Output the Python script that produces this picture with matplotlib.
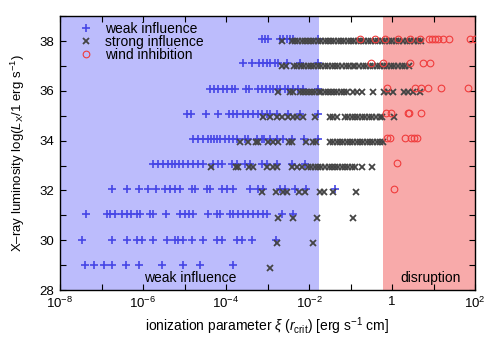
import numpy as np
import matplotlib
matplotlib.use("Agg")
import matplotlib.pyplot as plt
from matplotlib.lines import Line2D

plt.rcParams['font.family'] = ['Liberation Sans', 'DejaVu Sans']
plt.rcParams['mathtext.fontset'] = 'custom'
plt.rcParams['mathtext.rm'] = 'Liberation Sans'
plt.rcParams['mathtext.it'] = 'Liberation Sans:italic'
plt.rcParams['mathtext.sf'] = 'Liberation Sans'

# ---- data: log10(xi) values per luminosity row ----
# weak influence (+)
weak_rows = {
    38.1: [-3.13, -3.06, -2.99, -2.70, -2.63, -2.53, -2.46, -2.39, -1.78],
    37.1: [-3.59, -3.37, -3.20, -3.11, -3.01, -2.94, -2.82, -2.75, -2.53, -2.22, -1.78],
    36.08: [-4.39, -4.29, -4.19, -4.07, -3.98, -3.86, -3.78, -3.52, -3.45, -3.23, -3.13,
            -3.04, -2.94, -2.87, -2.77, -2.70, -2.58, -2.51, -2.39, -2.27, -2.14, -1.78],
    35.08: [-4.94, -4.84, -4.48, -4.19, -3.93, -3.83, -3.73, -3.59, -3.47, -3.35, -3.23,
            -3.13, -3.01, -2.94, -2.77, -2.51, -2.22, -1.78],
    34.08: [-4.80, -4.67, -4.55, -4.43, -4.36, -4.29, -4.22, -4.14, -4.02, -3.93, -3.83,
            -3.73, -3.54, -3.47, -3.25, -3.13, -3.08, -2.94, -2.77, -2.63, -2.41, -2.12, -1.78],
    33.07: [-5.76, -5.64, -5.52, -5.40, -5.30, -5.23, -5.13, -5.04, -4.92, -4.80, -4.67,
            -4.55, -4.31, -4.19, -4.10, -3.86, -3.73, -3.54, -3.42, -3.13, -3.01, -2.77,
            -2.41, -2.10],
    32.05: [-6.75, -6.39, -6.10, -5.88, -5.69, -5.47, -5.35, -5.23, -5.11, -4.82, -4.75,
            -4.46, -4.39, -4.10, -3.98, -3.83, -3.42, -3.23, -3.11, -2.70, -2.58, -2.34,
            -2.07, -1.37],
    31.04: [-7.37, -6.87, -6.80, -6.67, -6.51, -6.39, -6.29, -6.14, -6.07, -5.83, -5.76,
            -5.45, -5.11, -4.99, -4.89, -4.80, -4.43, -4.22, -4.14, -3.90, -3.83, -3.71,
            -3.59, -3.47, -3.35, -3.23, -3.11, -3.01, -2.65, -2.39],
    30.03: [-7.47, -6.75, -6.39, -6.14, -6.02, -5.76, -5.42, -5.23, -5.16, -5.04, -4.82,
            -4.55, -4.22, -4.10, -3.73, -3.61, -3.37, -2.80],
    29.02: [-7.40, -7.18, -6.95, -6.75, -6.42, -6.09, -5.54, -5.04, -4.63, -3.83],
}

# strong influence (x)
strong_rows = {
    38.0: [-2.65, -2.41, -2.33, -2.26, -2.17, -2.10, -2.02, -1.94, -1.87, -1.79, -1.70,
           -1.62, -1.55, -1.46, -1.39, -1.31, -1.23, -1.15, -1.06, -0.99, -0.91, -0.83,
           -0.74, -0.67, -0.58, -0.50, -0.42, -0.33, -0.25, -0.17, -0.08, 0.01, 0.09,
           0.18, 0.27, 0.35, 0.44, 0.53, 0.62, 0.70],
    36.98: [-2.65, -2.55, -2.36, -2.28, -2.19, -2.12, -2.03, -1.95, -1.88, -1.79, -1.70,
            -1.62, -1.55, -1.45, -1.37, -1.29, -1.21, -1.12, -1.04, -0.95, -0.88, -0.79,
            -0.70, -0.62, -0.54, -0.45, -0.37, -0.29, -0.20, -0.11, -0.03, 0.06, 0.14,
            0.23, 0.32, 0.41],
    35.96: [-2.75, -2.46, -2.39, -2.22, -2.15, -2.07, -2.00, -1.92, -1.85, -1.77, -1.70,
            -1.62, -1.55, -1.47, -1.40, -1.32, -1.24, -1.16, -1.08, -0.94, -0.84, -0.72,
            -0.46, -0.19, -0.10, 0.02, 0.29, 0.39, 0.51, 0.67],
    34.95: [-3.11, -2.94, -2.77, -2.65, -2.51, -2.39, -2.29, -2.14, -1.86, -1.49, -1.42,
            -1.33, -1.13, -1.05, -0.97, -0.89, -0.81, -0.72, -0.64, -0.56, -0.47, -0.38,
            -0.30, -0.24, 0.05],
    33.94: [-3.66, -3.47, -3.28, -3.23, -2.99, -2.87, -2.75, -2.48, -2.41, -2.07, -1.90,
            -1.83, -1.49, -1.41, -1.33, -1.25, -1.17, -1.09, -1.01, -0.93, -0.85, -0.77,
            -0.69, -0.61, -0.53, -0.45, -0.37, -0.29, -0.21],
    32.93: [-4.36, -3.76, -3.71, -3.45, -3.35, -3.01, -2.87, -2.77, -2.41, -2.29, -2.17,
            -2.02, -1.94, -1.86, -1.78, -1.70, -1.62, -1.53, -1.45, -1.37, -1.29, -1.21,
            -1.13, -1.05, -0.97, -0.89, -0.72, -0.48],
    31.92: [-3.13, -2.80, -2.63, -2.53, -2.24, -2.10, -1.73, -1.64, -1.42, -0.87],
    30.91: [-2.75, -2.39, -1.81, -0.94],
    29.9: [-2.77, -1.90],
    28.89: [-2.94],
}

# wind inhibition (o)
inhib_rows = {
    38.1: [-0.77, -0.41, -0.17, 0.14, 0.43, 0.67, 0.89, 0.96, 1.04, 1.11, 1.23, 1.37, 1.88, 2.00],
    37.1: [-0.51, -0.22, 0.43, 0.75, 0.92],
    36.1: [-0.12, 0.55, 0.70, 0.87, 1.18, 1.83],
    35.1: [-0.14, -0.03, 0.39, 0.41, 0.70],
    34.1: [-0.12, -0.05, 0.31, 0.46, 0.53, 0.60],
    33.09: [0.12],
    32.08: [0.05],
}

weak_edge = 0.0174   # upper xi of weak-influence zone
disrupt_edge = 0.6   # lower xi of disruption zone


def flatten(rows):
    xs, ys = [], []
    for y, lx in rows.items():
        xs.extend(10.0 ** np.array(lx))
        ys.extend([y] * len(lx))
    return np.array(xs), np.array(ys)


fig = plt.figure(figsize=(5, 3.5), dpi=100)
ax = fig.add_axes([0.12, 0.171, 0.83, 0.783])

ax.axvspan(1e-8, weak_edge, color='#bcbcfc', lw=0, zorder=0)
ax.axvspan(disrupt_edge, 1e2, color='#f8aaaa', lw=0, zorder=0)

xw, yw = flatten(weak_rows)
xs, ys = flatten(strong_rows)
xi, yi = flatten(inhib_rows)

PLUS = dict(ls='none', marker='+', ms=5.5, mew=1.2, color='#4646e6')
CROSS = dict(ls='none', marker='x', ms=4.4, mew=1.3, color='#444444')
CIRC = dict(ls='none', marker='o', ms=4.8, mew=0.8, mfc='none', mec='#f03c3c')

ax.plot(xw, yw, zorder=3, **PLUS)
ax.plot(xs, ys, zorder=4, **CROSS)
ax.plot(xi, yi, zorder=5, **CIRC)

ax.set_xscale('log')
ax.set_xlim(1e-8, 1e2)
ax.set_ylim(28, 39)

ax.set_xticks([10.0 ** k for k in range(-8, 3)])
ax.set_xticklabels(['$10^{-8}$', '', '$10^{-6}$', '', '$10^{-4}$', '', '$10^{-2}$', '',
                    '1', '', '$10^{2}$'])
ax.xaxis.set_minor_locator(matplotlib.ticker.NullLocator())
ax.set_yticks(range(28, 40))
ax.set_yticklabels([str(v) if v % 2 == 0 else '' for v in range(28, 40)])

ax.tick_params(direction='in', top=True, right=True, length=4, width=0.8,
               labelsize=9.5, pad=4)
for s in ax.spines.values():
    s.set_linewidth(1.0)

ax.set_xlabel(r'ionization parameter $\xi$ ($r_{\rm crit}$) [erg s$^{-1}$ cm]', fontsize=10, labelpad=3)
ax.set_ylabel(r'X–ray luminosity log($L_{\rm X}$/1 erg s$^{-1}$)', fontsize=9.5, labelpad=9)

ax.text(10 ** -4.87, 28.5, 'weak influence', ha='center', va='center', fontsize=10)
ax.text(10 ** 0.94, 28.5, 'disruption', ha='center', va='center', fontsize=10)

handles = [Line2D([], [], **PLUS), Line2D([], [], **CROSS), Line2D([], [], **CIRC)]
ax.legend(handles, ['weak influence', 'strong influence', 'wind inhibition'],
          loc='upper left', frameon=False, fontsize=10, handlelength=0.8,
          handletextpad=1.0, labelspacing=-0.05, borderaxespad=0.0,
          bbox_to_anchor=(0.035, 1.0))

fig.savefig('out.png', dpi=100)
